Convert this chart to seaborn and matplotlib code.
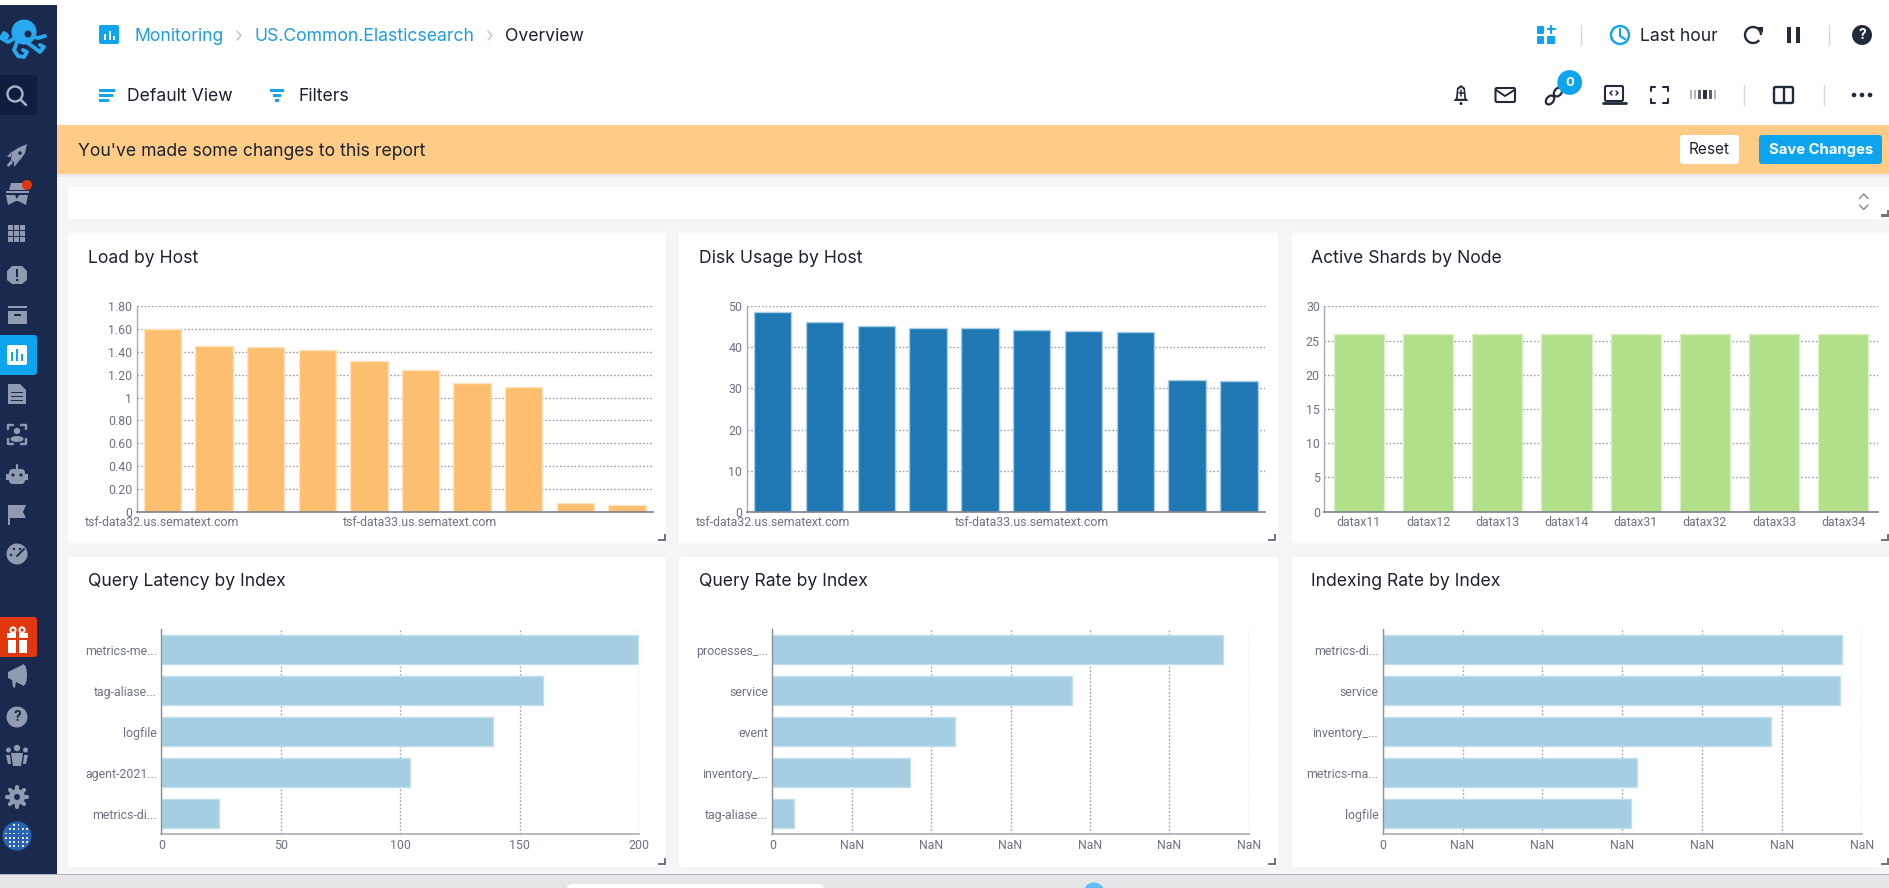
import numpy as np
import matplotlib
matplotlib.use("Agg")
import matplotlib.pyplot as plt
from matplotlib.patches import Rectangle, Circle, FancyBboxPatch, Polygon, Ellipse, Wedge, Arc
import seaborn as sns

sns.set_theme(style="white")
plt.rcParams["font.family"] = ["Roboto", "DejaVu Sans"]

# ---- data ----
load_hosts = ["tsf-data32.us.sematext.com", "", "", "", "", "tsf-data33.us.sematext.com", "", "", "", ""]
load_values = [1.604, 1.456, 1.447, 1.418, 1.319, 1.243, 1.132, 1.094, 0.073, 0.056]
load_ticks = [0, 0.2, 0.4, 0.6, 0.8, 1.0, 1.2, 1.4, 1.6, 1.8]
load_tick_labels = ["0", "0.20", "0.40", "0.60", "0.80", "1", "1.20", "1.40", "1.60", "1.80"]

disk_values = [48.6, 46.1, 45.1, 44.7, 44.6, 44.2, 43.9, 43.8, 32.0, 31.7]
disk_ticks = [0, 10, 20, 30, 40, 50]

shard_nodes = ["datax11", "datax12", "datax13", "datax14", "datax31", "datax32", "datax33", "datax34"]
shard_values = [26, 26, 26, 26, 26, 26, 26, 26]
shard_ticks = [0, 5, 10, 15, 20, 25, 30]

latency_index = ["metrics-me...", "tag-aliase...", "logfile", "agent-2021...", "metrics-di..."]
latency_values = [199.3, 159.5, 138.7, 104, 24.1]
latency_ticks = [0, 50, 100, 150, 200]

qrate_index = ["processes_...", "service", "event", "inventory_...", "tag-aliase..."]
qrate_values = [5.68, 3.777, 2.297, 1.729, 0.274]

irate_index = ["metrics-di...", "service", "inventory_...", "metrics-ma...", "logfile"]
irate_values = [5.75, 5.726, 4.859, 3.187, 3.104]

nan_ticks = [0, 1, 2, 3, 4, 5, 6]
nan_labels = ["0", "NaN", "NaN", "NaN", "NaN", "NaN", "NaN"]

W, H = 1890, 888
PT = 0.72
TXT = "#1c2230"
TICK = "#6d7284"
AXIS = "#a9acb9"
GRID = "#9c9fad"
BLUE = "#0ea5ee"
LINK = "#1f9be6"
NAVY = "#1a2a4e"
ICON = "#8f9ab3"
DARK = "#232a3a"
SHIFT = -1.2
TITLE_PX = 17.6

fig = plt.figure(figsize=(W / 100, H / 100), dpi=100, facecolor="#f5f6f8")
bg = fig.add_axes([0, 0, 1, 1], zorder=0)
bg.set_xlim(0, W)
bg.set_ylim(H, 0)
bg.axis("off")


def rect(x0, y0, x1, y1, c, z=1, **k):
    bg.add_patch(Rectangle((x0, y0), x1 - x0, y1 - y0, fc=c, ec="none", zorder=z, **k))


def rrect(x0, y0, x1, y1, c, r=3, z=1, ec="none", lw=0):
    bg.add_patch(FancyBboxPatch((x0 + r, y0 + r), x1 - x0 - 2 * r, y1 - y0 - 2 * r,
                                boxstyle=f"round,pad={r},rounding_size={r}", fc=c, ec=ec, lw=lw, zorder=z))


def circ(x, y, r, c, z=3):
    bg.add_patch(Circle((x, y), r, fc=c, ec="none", zorder=z))


def ring(x, y, r, c, lw=1.6, z=3):
    bg.add_patch(Circle((x, y), r, fc="none", ec=c, lw=lw, zorder=z))


def line(xs, ys, c, lw=1.5, z=3):
    bg.plot(xs, ys, color=c, lw=lw, zorder=z, solid_capstyle="round")


def poly(pts, c, z=3):
    bg.add_patch(Polygon(pts, closed=True, fc=c, ec="none", zorder=z))


def text(x, y, s, px, c=TXT, ha="left", weight="normal", family="Inter", z=5):
    bg.text(x, y + 1.0, s, fontsize=px * PT, color=c, ha=ha, va="center", fontweight=weight,
            family=[family, "DejaVu Sans"], zorder=z)


# ---- page frame ----
rect(57, 0, W, 125, "white")
rect(0, 0, 57, 5, "white")
rect(0, 5, 57, 874, NAVY, z=2)
rect(57, 125, W, 174, "#ffcc88", z=2)
rect(57, 174, W, 177, "#e9ebee", z=1)
rect(0, 874, W, H, "#e6e6e9", z=2)
rect(0, 873.5, W, 875, "#b1b2ba", z=3)
rrect(567, 884, 824, 900, "white", r=5, z=3)
circ(1094, 893, 10.5, "#61bdf3", z=3)

# cards
for x0, x1 in [(67, 667), (678, 1279), (1291, 1893)]:
    rrect(x0, 232, x1, 544, "white", r=3, ec="#eef0f3", lw=0.6)
    rrect(x0, 556, x1, 868, "white", r=3, ec="#eef0f3", lw=0.6)
rrect(67, 186, 1893, 220, "white", r=3, ec="#eef0f3", lw=0.6)


def corner(x1, y1):
    poly([(x1, y1 - 7), (x1, y1), (x1 - 8, y1), (x1 - 8, y1 - 2.5), (x1 - 2.5, y1 - 2.5), (x1 - 2.5, y1 - 7)], "#6e7484", z=4)


for cx in (666, 1276, 1889):
    corner(cx, 541)
    corner(cx, 865)
corner(1889, 217)
line([1859.5, 1863.7, 1868], [198.5, 194, 198.5], "#8a8f9c", 1.1)
line([1859.5, 1863.7, 1868], [205, 209.5, 205], "#8a8f9c", 1.1)

# ---- header ----
rrect(99, 25, 119, 44, BLUE, r=2)
for xb, yb in [(104, 34), (108.5, 31), (113, 36)]:
    rect(xb, yb, xb + 2, 40, "white", z=3)
text(134.5, 35.5, "Monitoring", TITLE_PX, LINK)
line([237, 241, 237], [31, 35.5, 40], "#c4c7cf", 1.1)
text(254.5, 35.5, "US.Common.Elasticsearch", TITLE_PX, LINK)
line([488, 492, 488], [31, 35.5, 40], "#c4c7cf", 1.1)
text(505, 35.5, "Overview", TITLE_PX)

for y, x1 in [(90.5, 115), (95.5, 113), (100.5, 109)]:
    rect(99, y - 1.4, x1, y + 1.4, BLUE, z=3)
text(127, 95.5, "Default View", TITLE_PX)
for y, x0, x1 in [(90.5, 270, 284), (95.5, 273, 281), (100.5, 275, 279)]:
    rect(x0, y - 1.4, x1, y + 1.4, BLUE, z=3)
text(298, 95.5, "Filters", TITLE_PX)
text(77.5, 150, "You've made some changes to this report", TITLE_PX)

rrect(1680, 135, 1739, 164, "white", r=3, z=3)
text(1709.5, 149, "Reset", 15.4, ha="center")
rrect(1759, 135, 1882, 164, BLUE, r=3, z=3)
text(1821, 149, "Save Changes", 14.9, "white", ha="center", weight="bold")

# top-right icons, row one
for x0, y0, x1, y1 in [(1537, 26, 1544, 34), (1537, 36, 1544, 44), (1547, 36, 1555, 44)]:
    rrect(x0, y0, x1, y1, BLUE, r=1, z=3)
line([1551, 1551], [26, 33], BLUE, 1.6)
line([1547.5, 1554.5], [29.5, 29.5], BLUE, 1.6)
for x, y0, y1 in [(1580.7, 25, 45), (1828.5, 25, 45), (1743.6, 85, 105), (1823.7, 85, 105)]:
    line([x, x], [y0, y1], "#d5d7dc", 1)
ring(1620, 35, 9, BLUE, 1.7)
line([1620, 1620, 1625], [29, 36, 39], BLUE, 1.6)
text(1640, 35.5, "Last hour", TITLE_PX)
bg.add_patch(Arc((1753, 35), 16, 16, theta1=-320, theta2=0, ec=DARK, lw=1.7, zorder=3))
poly([(1757, 27), (1763, 27), (1763, 33)], DARK)
rect(1787, 27, 1791, 43, DARK, z=3)
rect(1796, 27, 1800, 43, DARK, z=3)
circ(1862, 35, 10, DARK)
text(1862, 34.3, "?", 14, "white", ha="center", weight="bold")

# row two
poly([(1461, 85), (1465, 88), (1466, 98), (1468.5, 101), (1453.5, 101), (1456, 98), (1457, 88)], DARK)
poly([(1461, 87.5), (1463.5, 89.5), (1464.3, 98.8), (1457.7, 98.8), (1458.5, 89.5)], "white", z=4)
circ(1461, 103.5, 1.5, DARK)
line([1461, 1461], [90.5, 96.5], DARK, 1.1, z=5)
line([1458.5, 1463.5], [93.5, 93.5], DARK, 1.1, z=5)
rrect(1495.5, 88, 1515, 102, "none", r=1.5, ec=DARK, lw=1.5, z=3)
line([1496, 1505, 1514.5], [90, 96, 90], DARK, 1.4)
bg.add_patch(Ellipse((1550, 100), 7, 10, angle=40, fc="none", ec=DARK, lw=1.6, zorder=3))
bg.add_patch(Ellipse((1558, 92), 7, 10, angle=40, fc="none", ec=DARK, lw=1.6, zorder=3))
circ(1569.7, 82.5, 12.4, BLUE, z=4)
text(1569.7, 81.5, "0", 13, "white", ha="center", weight="bold")
rrect(1605, 86, 1623, 101, "none", r=1.5, ec=DARK, lw=1.5, z=3)
line([1602.5, 1625.5], [103.5, 103.5], DARK, 2)
line([1612, 1610, 1612], [91, 93, 95], DARK, 1.1)
line([1616, 1618, 1616], [91, 93, 95], DARK, 1.1)
for xs, ys in [([1650.5, 1650.5, 1655], [91, 87, 87]), ([1663, 1667.5, 1667.5], [87, 87, 91]),
               ([1650.5, 1650.5, 1655], [99, 103, 103]), ([1663, 1667.5, 1667.5], [103, 103, 99])]:
    line(xs, ys, DARK, 1.5)
for xb, wb, c in [(1690, 2, "#b3b6bd"), (1694, 2, "#b3b6bd"), (1698, 3, "#5a5f6b"), (1703, 4, "#2b3040"), (1709, 3, "#5a5f6b"), (1714, 2, "#b3b6bd")]:
    rect(xb, 90.5, xb + wb, 99.5, c, z=3)
rrect(1774, 87, 1793, 103, "none", r=1.5, ec=DARK, lw=1.7, z=3)
line([1783.5, 1783.5], [87, 103], DARK, 1.7)
for x in (1854, 1862, 1870):
    circ(x, 95, 2.3, DARK)

# ---- sidebar ----
rrect(-6, 75, 37, 115, "#0f1d40", r=3, z=3)
ring(15, 94, 7.5, "#aab3c6", 1.7, z=4)
line([20.5, 26], [99.5, 105], "#aab3c6", 1.8, z=4)
SKY = "#29a8ef"
bg.add_patch(Ellipse((24, 32), 25, 25, fc=SKY, ec="none", zorder=4))
for xs, ys in [([15, 8, 1, 4], [38, 42, 38, 33]), ([17, 14, 18, 24, 27, 23], [42, 50, 56, 57, 52, 50]),
               ([26, 32, 40, 44, 40], [42, 46, 52, 47, 45]), ([30, 38, 45], [36, 38, 36])]:
    line(xs, ys, SKY, 2.8, z=4)
circ(5, 36, 4, SKY, z=4)
circ(28, 34, 3.5, NAVY, z=5)

# rocket
poly([(11, 160), (12, 152), (18, 148), (27, 144), (25, 153), (21, 159), (15, 163)], ICON)
poly([(7, 157), (12, 151), (11, 157)], ICON)
poly([(14, 163), (20, 160), (14, 167)], ICON)
poly([(7, 165), (11, 160), (13, 163), (8, 167)], ICON)
circ(20, 153, 1.8, NAVY, z=4)
# incognito
poly([(11, 183), (24, 183), (26, 190), (9, 190)], ICON)
rect(6, 191, 29, 193, ICON, z=3)
poly([(6, 195), (15, 195), (17, 199), (19, 195), (28, 195), (26, 205), (18, 201), (16, 201), (8, 205)], ICON)
circ(27, 185, 5, "#e2360c", z=4)
# grid
for gx in (9, 15, 21):
    for gy in (227, 233, 239):
        rect(gx - 1, gy - 2.5, gx + 4, gy + 2.5, ICON, z=3)
# alert
poly([(12, 266), (22, 266), (27, 271), (27, 280), (22, 284), (12, 284), (7, 280), (7, 271)], ICON)
rect(16, 269, 18.4, 277, NAVY, z=4)
circ(17.2, 280, 1.3, NAVY, z=4)
# archive
rect(8, 306, 27, 308, ICON, z=3)
rect(8, 311, 27, 324, ICON, z=3)
rect(14, 314, 21, 316, NAVY, z=4)
# active reports
rrect(-6, 335, 37, 375, BLUE, r=3, z=3)
rrect(7, 345, 27, 365, "white", r=2, z=4)
for xb, yb in [(11, 352), (16, 349), (21, 354)]:
    rect(xb, yb, xb + 2.4, 361, BLUE, z=5)
# document
poly([(8, 384), (20, 384), (26, 390), (26, 404), (8, 404)], ICON)
for y in (392, 396, 400):
    rect(11, y, 23, y + 1.3, NAVY, z=4)
# face scan
for xs, ys in [([8, 8, 13], [429, 425, 425]), ([21, 26, 26], [425, 425, 429]),
               ([8, 8, 13], [439, 444, 444]), ([21, 26, 26], [444, 444, 439])]:
    line(xs, ys, ICON, 1.7)
circ(17, 431, 3.2, ICON)
bg.add_patch(Ellipse((17, 439), 13, 6, fc=ICON, ec="none", zorder=3))
# robot
rrect(9, 469, 25, 484, ICON, r=4, z=3)
rect(6, 474, 28, 480, ICON, z=3)
line([17, 17], [465, 469], ICON, 1.6)
circ(13, 475, 1.6, NAVY, z=4)
circ(21, 475, 1.6, NAVY, z=4)
# flag
poly([(8, 505), (26, 505), (23, 512), (26, 518), (10, 518), (10, 525), (8, 525)], ICON)
# gauge
circ(17, 554, 10.5, ICON)
for gx, gy in [(11, 555), (14, 549), (20, 549)]:
    circ(gx, gy, 1.2, NAVY, z=4)
line([17, 24], [556, 549], NAVY, 1.4, z=4)
# gift
rrect(-6, 617, 37, 657, "#e2360c", r=3, z=3)
rect(7, 633, 28, 638, "white", z=4)
rect(8, 640, 27, 653, "white", z=4)
rect(16, 633, 19, 653, "#e2360c", z=5)
ring(13, 630, 2.6, "white", 1.4, z=4)
ring(22, 630, 2.6, "white", 1.4, z=4)
# megaphone
poly([(8, 672), (24, 664), (24, 686), (8, 678)], ICON)
bg.add_patch(Ellipse((24, 675), 6, 20, fc=ICON, ec="none", zorder=3))
poly([(12, 680), (16, 681), (15, 688), (13, 687)], ICON)
# help
circ(17, 717, 10.5, ICON)
text(17, 716.3, "?", 14, NAVY, ha="center", weight="bold")
# team
for gx, gy, r in [(8.5, 750, 2.5), (17, 748, 3.2), (25.5, 750, 2.5)]:
    circ(gx, gy, r, ICON)
poly([(11, 753), (23, 753), (21, 766), (13, 766)], ICON)
poly([(6, 755), (10, 755), (11, 764), (8, 764)], ICON)
poly([(24, 755), (28, 755), (26, 764), (23, 764)], ICON)
# gear
for a in np.deg2rad(np.arange(0, 180, 45)):
    line([17 - 10 * np.cos(a), 17 + 10 * np.cos(a)], [797 - 10 * np.sin(a), 797 + 10 * np.sin(a)], ICON, 3)
circ(17, 797, 8, ICON)
circ(17, 797, 3, NAVY, z=4)
# globe
circ(17, 836, 14.5, "#2b62ad")
for gx in np.arange(6, 30, 4.2):
    for gy in np.arange(825, 849, 4.2):
        if (gx - 17) ** 2 + (gy - 836) ** 2 < 150:
            rect(gx - 0.9, gy - 0.9, gx + 0.9, gy + 0.9, "#dfe6f3", z=4)


# ---- charts ----
def make_ax(x0, x1, y0, y1):
    x0 += SHIFT
    x1 += SHIFT
    ax = fig.add_axes([x0 / W, 1 - y1 / H, (x1 - x0) / W, (y1 - y0) / H], zorder=2)
    ax.patch.set_alpha(0)
    return ax


def finish(ax, horizontal):
    for s in ("top", "right"):
        ax.spines[s].set_visible(False)
    ax.spines["left"].set_color("#8b8f9d" if horizontal else AXIS)
    ax.spines["left"].set_linewidth(1)
    ax.spines["bottom"].set_color(AXIS if horizontal else "#7d8190")
    ax.spines["bottom"].set_linewidth(1.2)
    ax.set_xlabel("")
    ax.set_ylabel("")
    ax.set_axisbelow(True)
    ax.grid(False)
    ax.grid(True, axis="x" if horizontal else "y", color=GRID, lw=1, linestyle=(0, (1.2, 1.4)))
    ax.tick_params(axis="both", length=0, labelsize=12.4 * PT, labelcolor=TICK, pad=3.2)
    for lab in ax.get_xticklabels() + ax.get_yticklabels():
        lab.set_family(["Roboto", "DejaVu Sans"])


def vbars(box, xlabels, values, color, edge, ticks, ticklabels=None):
    ax = make_ax(*box)
    pos = list(range(len(values)))
    sns.barplot(x=pos, y=values, color=color, saturation=1, width=0.725, errorbar=None,
                edgecolor=edge, linewidth=1, ax=ax)
    ax.set_xlim(-0.5, len(values) - 0.5)
    ax.set_ylim(ticks[0], ticks[-1])
    ax.set_yticks(ticks)
    ax.set_yticklabels(ticklabels if ticklabels else [str(t) for t in ticks])
    ax.set_xticks(pos)
    ax.set_xticklabels(xlabels)
    finish(ax, False)
    return ax


def hbars(box, names, values, xlim, ticks, ticklabels):
    ax = make_ax(*box)
    sns.barplot(y=names, x=values, orient="h", color="#a6cee3", saturation=1, width=0.715, errorbar=None,
                edgecolor="#c3dfee", linewidth=1, ax=ax)
    ax.set_xlim(*xlim)
    ax.set_ylim(len(names) - 0.5, -0.5)
    ax.set_xticks(ticks)
    ax.set_xticklabels(ticklabels)
    finish(ax, True)
    return ax


vbars((137.9, 654, 306.3, 511.7), load_hosts, load_values, "#fdbf6f", "#ffe3bd", load_ticks, load_tick_labels)
vbars((748, 1266, 306.3, 511.7), load_hosts, disk_values, "#1f78b4", "#a9cfe6", disk_ticks)
vbars((1325.5, 1879, 306.3, 511.7), shard_nodes, shard_values, "#b2df8a", "#d8efc4", shard_ticks)
hbars((162.6, 640.5, 629.3, 834.3), latency_index, latency_values, (0, 200), latency_ticks, [str(t) for t in latency_ticks])
hbars((773.7, 1249.8, 629.3, 834.3), qrate_index, qrate_values, (0, 6), nan_ticks, nan_labels)
hbars((1383.9, 1862.9, 629.3, 834.3), irate_index, irate_values, (0, 6), nan_ticks, nan_labels)

# panel titles
for x, y, s in [(88, 257.7, "Load by Host"), (699, 257.7, "Disk Usage by Host"), (1311, 257.7, "Active Shards by Node"),
                (88, 580.7, "Query Latency by Index"), (699, 580.7, "Query Rate by Index"), (1311, 580.7, "Indexing Rate by Index")]:
    text(x, y, s, TITLE_PX)

fig.savefig("out.png", dpi=100, facecolor=fig.get_facecolor())
